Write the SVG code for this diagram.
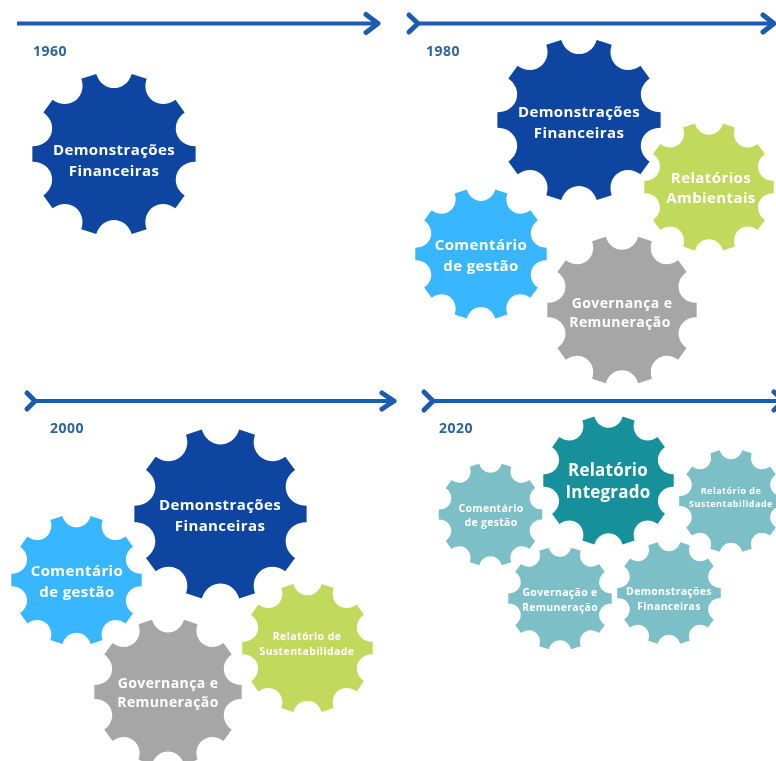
<svg xmlns="http://www.w3.org/2000/svg" xmlns:xlink="http://www.w3.org/1999/xlink" width="776" height="761" viewBox="0 0 776 761">
<style>
text{font-family:"Open Sans","Liberation Sans",sans-serif;font-weight:700;text-anchor:middle;fill:#fff}
.yr{fill:#2f659f;font-size:14px;letter-spacing:.5px;text-anchor:start}
.a{fill:none;stroke:#1f5cae;stroke-width:4}
.c{fill:none;stroke:#1f5cae;stroke-width:5;stroke-linecap:round;stroke-linejoin:round}
.navy{fill:#0a45a0}.sky{fill:#38b6ff}.lime{fill:#c1d95c}.grey{fill:#a6a6a6}.teal{fill:#12919b}.pale{fill:#7dbfc6}
.t15{font-size:15px;letter-spacing:.4px}.t14{font-size:14px;letter-spacing:.4px}.t10{font-size:10.5px;letter-spacing:.4px}.t11{font-size:10.5px;letter-spacing:.3px}.t17{font-size:17px;letter-spacing:.2px}.t8{font-size:9px;letter-spacing:.5px}
</style>
<defs>
<filter id="soft" x="0" y="0" width="100%" height="100%" filterUnits="objectBoundingBox"><feGaussianBlur stdDeviation=".5"/></filter>
<path id="gear" d="M99.54,-9.58L99.54,9.58C75.43,9.26 66.47,36.85 86.16,50.75L74.9,66.26C55.58,51.83 32.12,68.88 39.87,91.71L21.64,97.63C14.5,74.6 -14.5,74.6 -21.64,97.63L-39.87,91.71C-32.12,68.88 -55.58,51.83 -74.9,66.26L-86.16,50.75C-66.47,36.85 -75.43,9.26 -99.54,9.58L-99.54,-9.58C-75.43,-9.26 -66.47,-36.85 -86.16,-50.75L-74.9,-66.26C-55.58,-51.83 -32.12,-68.88 -39.87,-91.71L-21.64,-97.63C-14.5,-74.6 14.5,-74.6 21.64,-97.63L39.87,-91.71C32.12,-68.88 55.58,-51.83 74.9,-66.26L86.16,-50.75C66.47,-36.85 75.43,-9.26 99.54,-9.58Z"/>
</defs>
<rect width="776" height="761" fill="#fff"/>
<g filter="url(#soft)">
<rect width="776" height="761" fill="#fff"/>
<g id="connectors">
<path class="a" d="M17,23.5H378"/><path class="c" d="M366,14.5L378,23.5L366,32.5"/>
<path class="a" d="M417,23.5H774"/><path class="c" d="M409,15L418,23.5L409,32"/><path class="c" d="M763,15L774,23.5L763,32"/>
<path class="a" d="M34,401H394"/><path class="c" d="M27,393L35,401L27,409"/><path class="c" d="M382,393L394,401L382,409"/>
<path class="a" d="M432,401H776"/><path class="c" d="M424,392L433,401L424,410"/><path class="c" d="M774,392L784,401L774,410"/>
</g>
<text class="yr" x="33" y="56">1960</text>
<text class="yr" x="426" y="56">1980</text>
<text class="yr" x="50" y="433">2000</text>
<text class="yr" x="439" y="433">2020</text>
<g id="g1960-df"><use xlink:href="#gear" href="#gear" class="navy" transform="translate(114,154) scale(.82)"/><text class="t15" x="114" y="155">Demonstrações</text><text class="t15" x="114" y="176">Financeiras</text></g>
<g id="g1980-df"><use xlink:href="#gear" href="#gear" class="navy" transform="translate(579,120) scale(.82)"/><text class="t15" x="579" y="117">Demonstrações</text><text class="t15" x="579" y="138">Financeiras</text></g>
<g id="g1980-ra"><use xlink:href="#gear" href="#gear" class="lime" transform="translate(709,187) scale(.65)"/><text class="t15" x="711" y="183">Relatórios</text><text class="t15" x="711" y="203">Ambientais</text></g>
<g id="g1980-cg"><use xlink:href="#gear" href="#gear" class="sky" transform="translate(481,254) scale(.66)"/><text class="t15" x="481" y="250">Comentário</text><text class="t15" x="481" y="271">de gestão</text></g>
<g id="g1980-gr"><use xlink:href="#gear" href="#gear" class="grey" transform="translate(622,310) scale(.75)"/><text class="t14" x="622" y="308">Governança e</text><text class="t14" x="620" y="327">Remuneração</text></g>
<g id="g2000-df"><use xlink:href="#gear" href="#gear" class="navy" transform="translate(220.5,514) scale(.865)"/><text class="t15" x="220" y="510">Demonstrações</text><text class="t15" x="220" y="531">Financeiras</text></g>
<g id="g2000-cg"><use xlink:href="#gear" href="#gear" class="sky" transform="translate(76.5,580) scale(.655)"/><text class="t15" x="77" y="576">Comentário</text><text class="t15" x="77" y="597">de gestão</text></g>
<g id="g2000-gr"><use xlink:href="#gear" href="#gear" class="grey" transform="translate(168,692) scale(.74)"/><text class="t14" x="168" y="688">Governança e</text><text class="t14" x="168" y="707">Remuneração</text></g>
<g id="g2000-rs"><use xlink:href="#gear" href="#gear" class="lime" transform="translate(307.5,648) scale(.655)"/><text class="t10" x="307" y="640">Relatório de</text><text class="t10" x="307" y="655">Sustentabilidade</text></g>
<g id="g2020-ri"><use xlink:href="#gear" href="#gear" class="teal" transform="translate(608.5,480.5) scale(.655)"/><text class="t17" x="608" y="476">Relatório</text><text class="t17" x="608" y="498">Integrado</text></g>
<g id="g2020-cg"><use xlink:href="#gear" href="#gear" class="pale" transform="translate(490.5,514.5) scale(.52)"/><text class="t11" x="491" y="512">Comentário</text><text class="t11" x="491" y="526">de gestão</text></g>
<g id="g2020-rs"><use xlink:href="#gear" href="#gear" class="pale" transform="translate(731,501) scale(.52)"/><text class="t8" x="731" y="494">Relatório de</text><text class="t8" x="731" y="507">Sustentabilidade</text></g>
<g id="g2020-gr"><use xlink:href="#gear" href="#gear" class="pale" transform="translate(560,598.5) scale(.52)"/><text class="t11" x="560" y="596">Governação e</text><text class="t11" x="560" y="611">Remuneração</text></g>
<g id="g2020-df"><use xlink:href="#gear" href="#gear" class="pale" transform="translate(669,593) scale(.52)"/><text class="t11" x="669" y="595">Demonstrações</text><text class="t11" x="669" y="610">Financeiras</text></g>
</g>
</svg>
